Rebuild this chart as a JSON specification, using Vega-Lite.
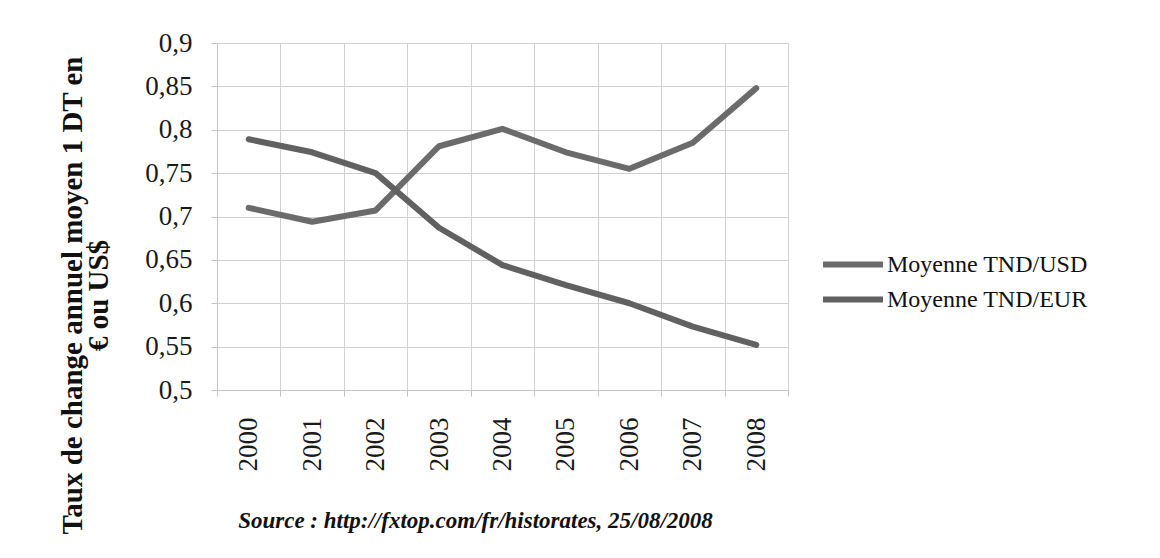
{
  "$schema": "https://vega.github.io/schema/vega-lite/v6.json",
  "width": 571,
  "height": 347,
  "autosize": {"type": "none"},
  "padding": {"left": 217, "top": 43, "right": 372, "bottom": 168},
  "background": "white",
  "data": {
    "values": [
      {"annee": "2000", "serie": "Moyenne TND/USD", "taux": 0.710},
      {"annee": "2001", "serie": "Moyenne TND/USD", "taux": 0.694},
      {"annee": "2002", "serie": "Moyenne TND/USD", "taux": 0.707},
      {"annee": "2003", "serie": "Moyenne TND/USD", "taux": 0.781},
      {"annee": "2004", "serie": "Moyenne TND/USD", "taux": 0.801},
      {"annee": "2005", "serie": "Moyenne TND/USD", "taux": 0.774},
      {"annee": "2006", "serie": "Moyenne TND/USD", "taux": 0.755},
      {"annee": "2007", "serie": "Moyenne TND/USD", "taux": 0.785},
      {"annee": "2008", "serie": "Moyenne TND/USD", "taux": 0.848},
      {"annee": "2000", "serie": "Moyenne TND/EUR", "taux": 0.789},
      {"annee": "2001", "serie": "Moyenne TND/EUR", "taux": 0.774},
      {"annee": "2002", "serie": "Moyenne TND/EUR", "taux": 0.750},
      {"annee": "2003", "serie": "Moyenne TND/EUR", "taux": 0.687},
      {"annee": "2004", "serie": "Moyenne TND/EUR", "taux": 0.644},
      {"annee": "2005", "serie": "Moyenne TND/EUR", "taux": 0.621},
      {"annee": "2006", "serie": "Moyenne TND/EUR", "taux": 0.600},
      {"annee": "2007", "serie": "Moyenne TND/EUR", "taux": 0.573},
      {"annee": "2008", "serie": "Moyenne TND/EUR", "taux": 0.552}
    ]
  },
  "mark": {"type": "line", "strokeWidth": 6, "strokeCap": "round", "strokeJoin": "round"},
  "encoding": {
    "x": {
      "field": "annee",
      "type": "ordinal",
      "bandPosition": 0.5,
      "scale": {"type": "band", "paddingInner": 0, "paddingOuter": 0},
      "axis": {
        "tickBand": "extent",
        "labelAngle": -90,
        "labelPadding": 21,
        "labelFontSize": 27,
        "title": "Source : http://fxtop.com/fr/historates, 25/08/2008",
        "titleFontStyle": "italic",
        "titleFontWeight": "bold",
        "titleFontSize": 23,
        "titleX": 258,
        "titleY": 130,
        "titleAlign": "center",
        "titleBaseline": "middle"
      }
    },
    "y": {
      "field": "taux",
      "type": "quantitative",
      "scale": {"domain": [0.5, 0.9], "zero": false, "nice": false},
      "axis": {
        "values": [0.5, 0.55, 0.6, 0.65, 0.7, 0.75, 0.8, 0.85, 0.9],
        "labelExpr": "replace(format(datum.value, '.2~f'), '.', ',')",
        "labelPadding": 19,
        "labelFontSize": 27,
        "title": ["Taux de change annuel moyen 1 DT en", "€ ou US$"],
        "titleFontWeight": "bold",
        "titleFontSize": 29,
        "titleLineHeight": 26,
        "titleAngle": -90,
        "titleX": -145,
        "titleY": 252,
        "titleAlign": "center",
        "titleBaseline": "middle"
      }
    },
    "color": {
      "field": "serie",
      "type": "nominal",
      "scale": {
        "domain": ["Moyenne TND/USD", "Moyenne TND/EUR"],
        "range": ["#6b6b6b", "#616161"]
      },
      "legend": {
        "title": null,
        "orient": "none",
        "legendX": 603,
        "legendY": 204,
        "symbolType": "stroke",
        "symbolSize": 3600,
        "symbolStrokeWidth": 6,
        "labelFontSize": 24,
        "labelOffset": 1,
        "rowPadding": 0,
        "clipHeight": 35
      }
    }
  },
  "config": {
    "font": "Liberation Serif",
    "view": {"stroke": "#d0d0d0"},
    "axis": {
      "labelFont": "Liberation Serif",
      "titleFont": "Liberation Serif",
      "labelColor": "#1a1a1a",
      "titleColor": "#111111",
      "domainColor": "#c4c4c4",
      "gridColor": "#d0d0d0",
      "tickColor": "#c4c4c4",
      "tickSize": 6,
      "grid": true
    },
    "legend": {
      "labelFont": "Liberation Serif",
      "labelColor": "#111111",
      "labelLimit": 400
    }
  }
}
